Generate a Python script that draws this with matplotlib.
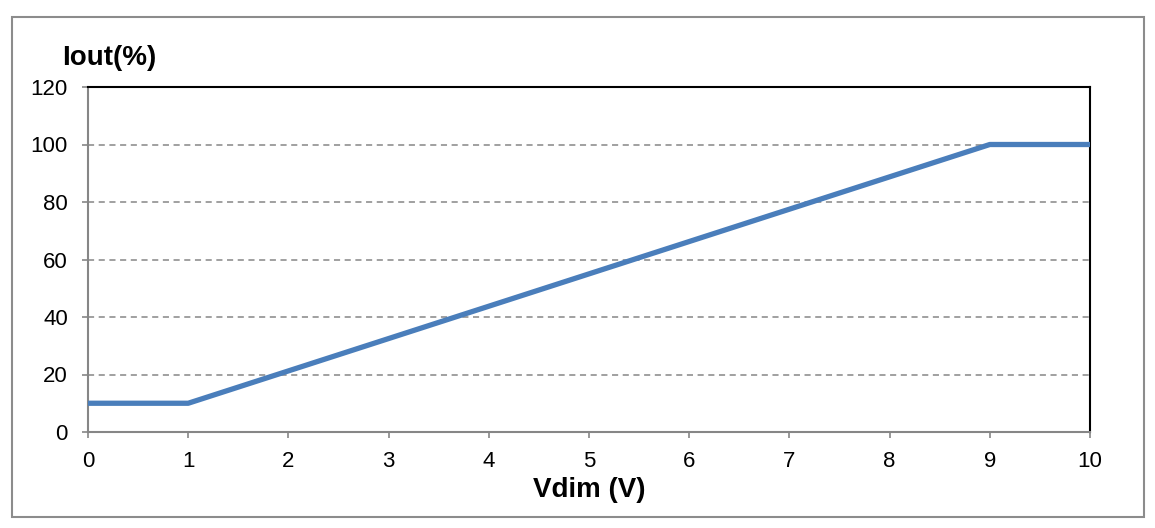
import matplotlib
matplotlib.use('Agg')
import matplotlib.pyplot as plt
from matplotlib.patches import Rectangle

plt.rcParams['font.family'] = ['Liberation Sans', 'DejaVu Sans']

# dimming curve: Vdim (V) vs Iout (%)
vdim = [0, 1, 9, 10]
iout = [10, 10, 100, 100]
xticks = [0, 1, 2, 3, 4, 5, 6, 7, 8, 9, 10]
yticks = [0, 20, 40, 60, 80, 100, 120]

fig = plt.figure(figsize=(11.55, 5.28), dpi=100)
ax = fig.add_axes([88/1155, 1 - 432/528, (1090 - 88)/1155, (432 - 87)/528])

# outer frame around the chart
fig.patches.append(Rectangle((12/1155, 1 - 517/528), (1144 - 12)/1155, (517 - 17)/528,
                             transform=fig.transFigure, fill=False,
                             edgecolor='#8c8c8c', lw=1.5))

ax.plot(vdim, iout, color='#4a7ebb', lw=3.8, solid_capstyle='butt', zorder=3)

ax.set_xlim(0, 10)
ax.set_ylim(0, 120)
ax.set_xticks(xticks)
ax.set_yticks(yticks)
ax.tick_params(axis='both', labelsize=16, color='#868686', length=4.5, width=1.2)
ax.tick_params(axis='x', pad=9)
ax.tick_params(axis='y', pad=10)

for y in yticks[1:-1]:
    ax.axhline(y, color='#868686', lw=1.1, ls=(0, (4, 3)), zorder=1)

ax.spines['left'].set_color('#868686')
ax.spines['bottom'].set_color('#868686')
ax.spines['left'].set_linewidth(1.5)
ax.spines['bottom'].set_linewidth(1.5)
ax.spines['top'].set_color('black')
ax.spines['right'].set_color('black')
ax.spines['top'].set_linewidth(1.5)
ax.spines['right'].set_linewidth(1.5)

ax.set_xlabel('Vdim (V)', fontsize=20, fontweight='bold', labelpad=4)
fig.text(62/1155, 1 - 58/528, 'Iout(%)', fontsize=20, fontweight='bold',
         ha='left', va='center')

fig.savefig('out.png', dpi=100)
